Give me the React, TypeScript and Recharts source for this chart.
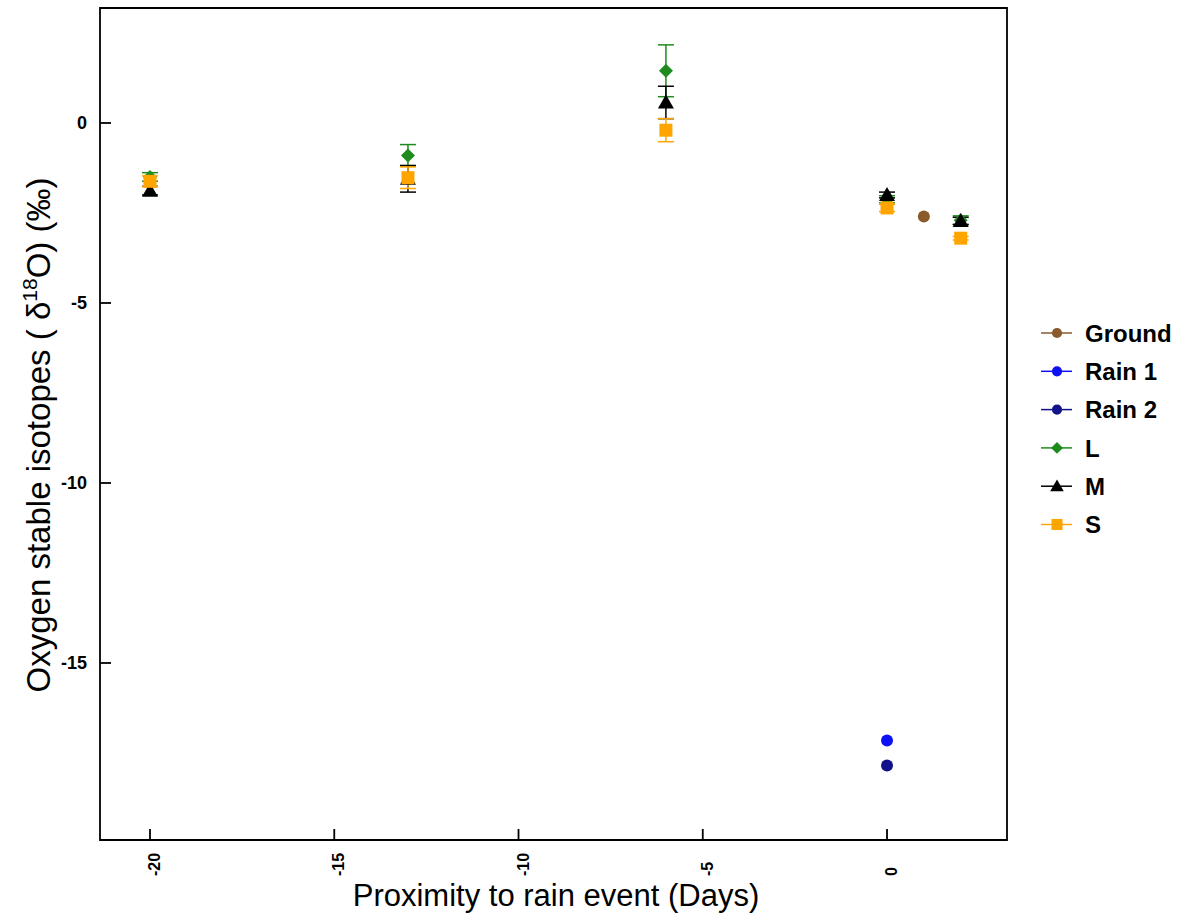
import React from 'react';
import { ScatterChart, Scatter, XAxis, YAxis, ErrorBar, ReferenceArea, ReferenceLine, Legend, Label } from 'recharts';

// ---- data ----
const days = [-20, -13, -6, 0, 2];
const lValues = [-1.5, -0.9, 1.45, -2.12, -2.7];
const lErrors = [0.12, 0.3, 0.72, 0.1, 0.12];
const mValues = [-1.88, -1.55, 0.57, -2.0, -2.72];
const mErrors = [0.12, 0.37, 0.45, 0.08, 0.1];
const sValues = [-1.62, -1.52, -0.2, -2.36, -3.2];
const sErrors = [0.15, 0.3, 0.32, 0.1, 0.05];
const groundDays = [1];
const groundValues = [-2.6];
const rain1Days = [0];
const rain1Values = [-17.15];
const rain2Days = [0];
const rain2Values = [-17.85];

const xTicks = [-20, -15, -10, -5, 0];
const yTicks = [-15, -10, -5, 0];
const xDomain = [-21.357, 3.256];
const yDomain = [-19.917, 3.194];

const legendNames = ['Ground', 'Rain 1', 'Rain 2', 'L', 'M', 'S'];

const COLORS = {
  Ground: '#8B5A2B',
  'Rain 1': '#1010F5',
  'Rain 2': '#12128A',
  L: '#1E8B1E',
  M: '#000000',
  S: '#FFA500',
};
const KINDS = {
  Ground: 'circle',
  'Rain 1': 'circle',
  'Rain 2': 'circle',
  L: 'diamond',
  M: 'triangle',
  S: 'square',
};

const FONT = '"Liberation Sans", Arial, Helvetica, sans-serif';
// inward tick length expressed in axis units (about 11px)
const X_TICK_LEN = (yDomain[1] - yDomain[0]) * 11 / 832;
const Y_TICK_LEN = (xDomain[1] - xDomain[0]) * 11 / 907;

const build = (xs, ys, errs) => xs.map((x, i) => ({ x, y: ys[i], err: errs ? errs[i] : 0 }));

const lData = build(days, lValues, lErrors);
const mData = build(days, mValues, mErrors);
const sData = build(days, sValues, sErrors);
const groundData = build(groundDays, groundValues);
const rain1Data = build(rain1Days, rain1Values);
const rain2Data = build(rain2Days, rain2Values);

function Marker({ kind, color, cx, cy, s = 1 }) {
  if (kind === 'circle') return <circle cx={cx} cy={cy} r={6 * s} fill={color} />;
  if (kind === 'diamond') {
    const d = 7 * s;
    return <polygon points={`${cx},${cy - d} ${cx + d},${cy} ${cx},${cy + d} ${cx - d},${cy}`} fill={color} />;
  }
  if (kind === 'triangle') {
    const h = 8 * s;
    return <polygon points={`${cx},${cy - h} ${cx + h},${cy + h * 0.75} ${cx - h},${cy + h * 0.75}`} fill={color} />;
  }
  const a = 6.5 * s;
  return <rect x={cx - a} y={cy - a} width={2 * a} height={2 * a} fill={color} />;
}

const shapeFor = (name) => (props) => (
  <Marker kind={KINDS[name]} color={COLORS[name]} cx={props.cx} cy={props.cy} />
);

function XTick(props) {
  const { x, payload } = props;
  return (
    <text
      x={x + 10}
      y={876}
      transform={`rotate(-90 ${x + 10} 876)`}
      textAnchor="start"
      fontFamily={FONT}
      fontWeight="bold"
      fontSize={16}
      fill="#000"
    >
      {payload.value}
    </text>
  );
}

function YTick(props) {
  const { y, payload } = props;
  return (
    <text x={87} y={y} dy="0.35em" textAnchor="end" fontFamily={FONT} fontWeight="bold" fontSize={18} fill="#000">
      {payload.value}
    </text>
  );
}

function LegendContent() {
  return (
    <svg width={165} height={240}>
      {legendNames.map((name, i) => {
        const cy = 21 + i * 38.3;
        return (
          <g key={name}>
            <line x1={11} y1={cy} x2={42} y2={cy} stroke={COLORS[name]} strokeWidth={1.5} />
            <Marker kind={KINDS[name]} color={COLORS[name]} cx={27} cy={cy} s={0.85} />
            <text x={55} y={cy} dy="0.36em" fontFamily={FONT} fontWeight="bold" fontSize={24} fill="#000">
              {name}
            </text>
          </g>
        );
      })}
    </svg>
  );
}

export default function App() {
  return (
    <div style={{ position: 'absolute', left: 0, top: 0, background: '#fff' }}>
      <ScatterChart width={1192} height={924} margin={{ top: 8, right: 185, bottom: 0, left: 0 }}>
        <XAxis
          type="number"
          dataKey="x"
          domain={xDomain}
          ticks={xTicks}
          interval={0}
          allowDataOverflow
          axisLine={false}
          tickLine={false}
          height={84}
          tick={<XTick />}
        >
          <Label
            content={() => (
              <text x={556} y={906} textAnchor="middle" fontFamily={FONT} fontSize={31} fill="#000">
                Proximity to rain event (Days)
              </text>
            )}
          />
        </XAxis>
        <YAxis
          type="number"
          dataKey="y"
          domain={yDomain}
          ticks={yTicks}
          interval={0}
          allowDataOverflow
          axisLine={false}
          tickLine={false}
          width={100}
          tick={<YTick />}
        >
          <Label
            content={() => (
              <text
                x={50}
                y={435}
                transform="rotate(-90 50 435)"
                textAnchor="middle"
                fontFamily={FONT}
                fontSize={33}
                fill="#000"
              >
                Oxygen stable isotopes ( δ
                <tspan fontSize={21} dy={-13}>18</tspan>
                <tspan dy={13}>O) (‰)</tspan>
              </text>
            )}
          />
        </YAxis>
        <ReferenceArea
          x1={xDomain[0]}
          x2={xDomain[1]}
          y1={yDomain[0]}
          y2={yDomain[1]}
          fill="none"
          stroke="#000"
          strokeWidth={1.8}
          fillOpacity={0}
          ifOverflow="visible"
        />
        {xTicks.map((t) => (
          <ReferenceLine
            key={`xt${t}`}
            segment={[{ x: t, y: yDomain[0] }, { x: t, y: yDomain[0] + X_TICK_LEN }]}
            stroke="#000"
            strokeWidth={1.8}
            ifOverflow="visible"
          />
        ))}
        {yTicks.map((t) => (
          <ReferenceLine
            key={`yt${t}`}
            segment={[{ x: xDomain[0], y: t }, { x: xDomain[0] + Y_TICK_LEN, y: t }]}
            stroke="#000"
            strokeWidth={1.8}
            ifOverflow="visible"
          />
        ))}
        <Scatter name="Ground" data={groundData} fill={COLORS.Ground} shape={shapeFor('Ground')} isAnimationActive={false} />
        <Scatter name="Rain 1" data={rain1Data} fill={COLORS['Rain 1']} shape={shapeFor('Rain 1')} isAnimationActive={false} />
        <Scatter name="Rain 2" data={rain2Data} fill={COLORS['Rain 2']} shape={shapeFor('Rain 2')} isAnimationActive={false} />
        <Scatter name="L" data={lData} fill={COLORS.L} shape={shapeFor('L')} isAnimationActive={false}>
          <ErrorBar dataKey="err" direction="y" width={8} stroke={COLORS.L} strokeWidth={1.5} />
        </Scatter>
        <Scatter name="M" data={mData} fill={COLORS.M} shape={shapeFor('M')} isAnimationActive={false}>
          <ErrorBar dataKey="err" direction="y" width={8} stroke={COLORS.M} strokeWidth={1.5} />
        </Scatter>
        <Scatter name="S" data={sData} fill={COLORS.S} shape={shapeFor('S')} isAnimationActive={false}>
          <ErrorBar dataKey="err" direction="y" width={8} stroke={COLORS.S} strokeWidth={1.5} />
        </Scatter>
        <Legend
          layout="vertical"
          align="center"
          verticalAlign="middle"
          content={<LegendContent />}
          wrapperStyle={{ left: 1030, top: 312, width: 165, height: 240 }}
        />
      </ScatterChart>
    </div>
  );
}
